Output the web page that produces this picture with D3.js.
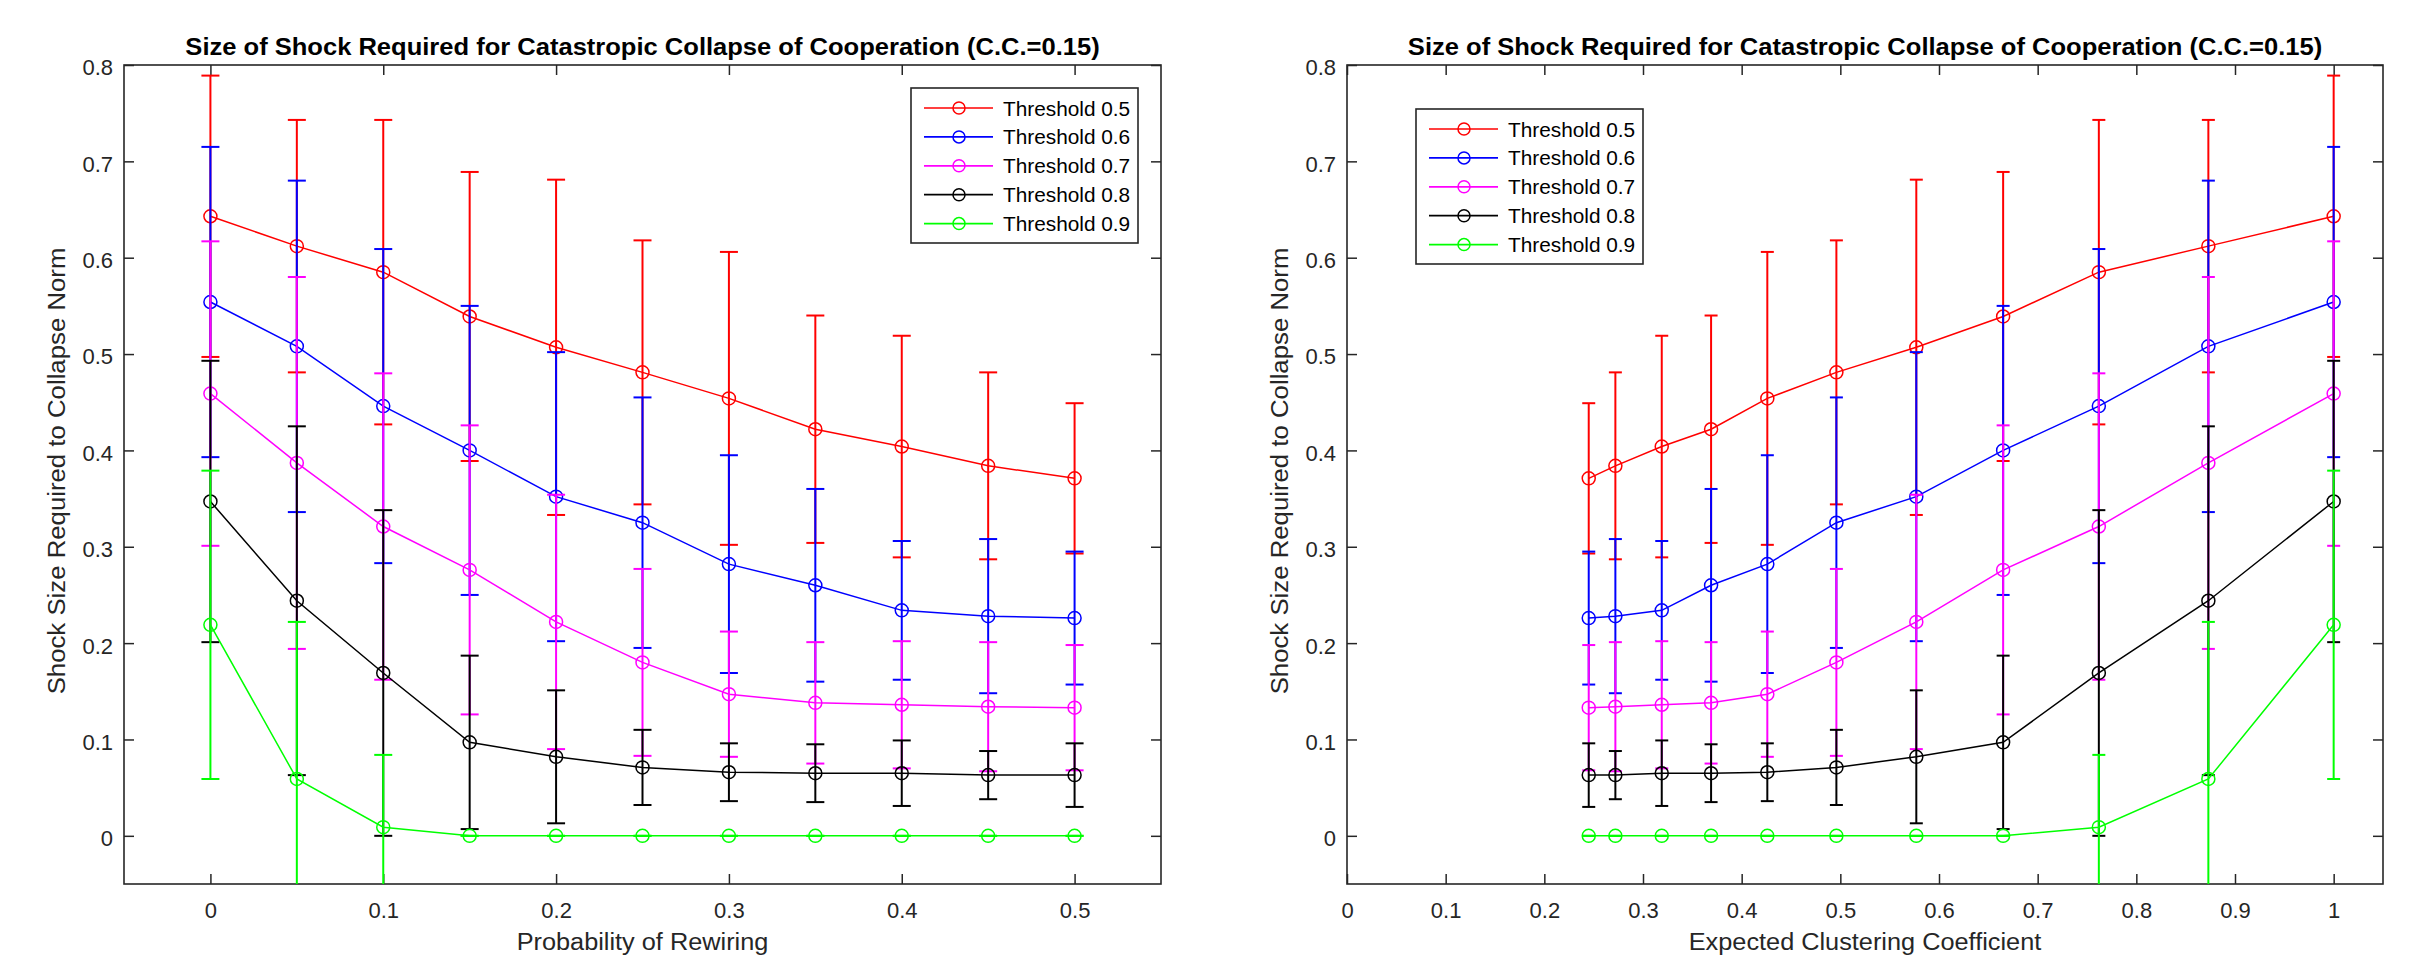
<!DOCTYPE html>
<html>
<head>
<meta charset="utf-8">
<script src="https://cdn.jsdelivr.net/npm/d3@7"></script>
<style>
  body { margin: 0; background: #fff; }
  svg { display: block; }
  text { font-family: "Liberation Sans", Arial, Helvetica, sans-serif; }
</style>
</head>
<body>
<div id="chart"></div>
<script>
// Data (same runs plotted two ways)
const rewiring   = [0, 0.05, 0.1, 0.15, 0.2, 0.25, 0.3, 0.35, 0.4, 0.45, 0.5];
const clustering = [1.0, 0.873, 0.762, 0.665, 0.577, 0.496, 0.426, 0.369, 0.319, 0.272, 0.245];

const seriesNames = ["Threshold 0.5", "Threshold 0.6", "Threshold 0.7", "Threshold 0.8", "Threshold 0.9"];

const mean05 = [0.643, 0.612, 0.585, 0.539, 0.507, 0.481, 0.454, 0.422, 0.404, 0.384, 0.371];
const err05  = [0.146, 0.131, 0.158, 0.150, 0.174, 0.137, 0.152, 0.118, 0.115, 0.097, 0.078];
const mean06 = [0.554, 0.508, 0.446, 0.400, 0.352, 0.325, 0.282, 0.260, 0.234, 0.228, 0.226];
const err06  = [0.161, 0.172, 0.163, 0.150, 0.150, 0.130, 0.113, 0.100, 0.072, 0.080, 0.069];
const mean07 = [0.459, 0.387, 0.321, 0.276, 0.222, 0.180, 0.147, 0.138, 0.136, 0.134, 0.133];
const err07  = [0.158, 0.193, 0.159, 0.150, 0.132, 0.097, 0.065, 0.063, 0.066, 0.067, 0.065];
const mean08 = [0.347, 0.244, 0.169, 0.097, 0.082, 0.071, 0.066, 0.065, 0.065, 0.063, 0.063];
const err08  = [0.146, 0.181, 0.169, 0.090, 0.069, 0.039, 0.030, 0.030, 0.034, 0.025, 0.033];
const mean09 = [0.219, 0.059, 0.009, 0, 0, 0, 0, 0, 0, 0, 0];
const err09  = [0.160, 0.163, 0.075, 0, 0, 0, 0, 0, 0, 0, 0];

const means = [mean05, mean06, mean07, mean08, mean09];
const errs  = [err05, err06, err07, err08, err09];

const yTicks = [0, 0.1, 0.2, 0.3, 0.4, 0.5, 0.6, 0.7, 0.8];
const yTickLabels = ["0", "0.1", "0.2", "0.3", "0.4", "0.5", "0.6", "0.7", "0.8"];
const xTicksLeft = [0, 0.1, 0.2, 0.3, 0.4, 0.5];
const xTickLabelsLeft = ["0", "0.1", "0.2", "0.3", "0.4", "0.5"];
const xTicksRight = [0, 0.1, 0.2, 0.3, 0.4, 0.5, 0.6, 0.7, 0.8, 0.9, 1];
const xTickLabelsRight = ["0", "0.1", "0.2", "0.3", "0.4", "0.5", "0.6", "0.7", "0.8", "0.9", "1"];

const titleText = "Size of Shock Required for Catastropic Collapse of Cooperation (C.C.=0.15)";
const yLabelText = "Shock Size Required to Collapse Norm";

// styling
const colors = ["#ff0000", "#0000ff", "#ff00ff", "#000000", "#00ff00"];
const axisColor = "#262626";
const W = 2411, H = 955;
const plotTop = 65, plotBottom = 884;

const panels = [
  { id: "left", x0: 124, x1: 1161, xDomain: [-0.05, 0.55], xs: rewiring,
    ticks: xTicksLeft, tickLabels: xTickLabelsLeft, xLabel: "Probability of Rewiring",
    legendX: 911, legendY: 88, cap: 9 },
  { id: "right", x0: 1347, x1: 2383, xDomain: [0, 1.05], xs: clustering,
    ticks: xTicksRight, tickLabels: xTickLabelsRight, xLabel: "Expected Clustering Coefficient",
    legendX: 1416, legendY: 109, cap: 6.5 }
];

const svg = d3.select("#chart").append("svg")
  .attr("width", W).attr("height", H);
svg.append("rect").attr("width", W).attr("height", H).attr("fill", "#fff");

// stretch text horizontally a bit (the MATLAB export is wider than Arial)
function stretch(sel, f) {
  sel.each(function() {
    const len = this.getComputedTextLength();
    d3.select(this).attr("textLength", len * f).attr("lengthAdjust", "spacingAndGlyphs");
  });
}

const y = d3.scaleLinear().domain([-0.05, 0.8]).range([plotBottom, plotTop]);

panels.forEach(p => {
  const x = d3.scaleLinear().domain(p.xDomain).range([p.x0, p.x1]);
  const g = svg.append("g");

  g.append("clipPath").attr("id", "clip-" + p.id)
    .append("rect")
    .attr("x", p.x0).attr("y", plotTop)
    .attr("width", p.x1 - p.x0).attr("height", plotBottom - plotTop);

  // axes (ticks point inward on all four sides)
  const fmtX = (d, i) => p.tickLabels[i];
  const fmtY = (d, i) => yTickLabels[i];

  const xb = g.append("g").attr("transform", `translate(0,${plotBottom})`)
    .call(d3.axisBottom(x).tickValues(p.ticks).tickFormat(fmtX).tickSizeInner(-10).tickSizeOuter(0).tickPadding(18.5));
  const xt = g.append("g").attr("transform", `translate(0,${plotTop})`)
    .call(d3.axisTop(x).tickValues(p.ticks).tickFormat("").tickSizeInner(-10).tickSizeOuter(0));
  const yl = g.append("g").attr("transform", `translate(${p.x0},0)`)
    .call(d3.axisLeft(y).tickValues(yTicks).tickFormat(fmtY).tickSizeInner(-10).tickSizeOuter(0).tickPadding(11));
  const yr = g.append("g").attr("transform", `translate(${p.x1},0)`)
    .call(d3.axisRight(y).tickValues(yTicks).tickFormat("").tickSizeInner(-10).tickSizeOuter(0));

  [xb, xt, yl, yr].forEach(a => {
    a.select(".domain").remove();
    a.selectAll(".tick line").attr("stroke", axisColor).attr("stroke-width", 1.5);
    a.selectAll("text").attr("fill", axisColor).style("font-size", "22px")
      .style("font-family", "'Liberation Sans', Arial, sans-serif");
  });
  yl.selectAll("text").attr("dy", "0.45em");

  // axes box
  g.append("rect")
    .attr("x", p.x0).attr("y", plotTop)
    .attr("width", p.x1 - p.x0).attr("height", plotBottom - plotTop)
    .attr("fill", "none").attr("stroke", axisColor).attr("stroke-width", 1.6);

  // series: error bars, line, circle markers
  const plot = g.append("g").attr("clip-path", `url(#clip-${p.id})`);
  means.forEach((m, s) => {
    const pts = p.xs.map((xv, i) => ({ x: xv, m: m[i], e: errs[s][i] }));
    const sg = plot.append("g").attr("stroke", colors[s]).attr("fill", "none");

    const eb = sg.append("g").attr("stroke-width", 2);
    eb.selectAll("line.v").data(pts).join("line").attr("class", "v")
      .attr("x1", d => x(d.x)).attr("x2", d => x(d.x))
      .attr("y1", d => y(d.m - d.e)).attr("y2", d => y(d.m + d.e));
    eb.selectAll("line.t").data(pts).join("line").attr("class", "t")
      .attr("x1", d => x(d.x) - p.cap).attr("x2", d => x(d.x) + p.cap)
      .attr("y1", d => y(d.m + d.e)).attr("y2", d => y(d.m + d.e));
    eb.selectAll("line.b").data(pts).join("line").attr("class", "b")
      .attr("x1", d => x(d.x) - p.cap).attr("x2", d => x(d.x) + p.cap)
      .attr("y1", d => y(d.m - d.e)).attr("y2", d => y(d.m - d.e));

    sg.append("path")
      .attr("stroke-width", 1.5)
      .attr("d", d3.line().x(d => x(d.x)).y(d => y(d.m))(pts));

    sg.selectAll("circle").data(pts).join("circle")
      .attr("cx", d => x(d.x)).attr("cy", d => y(d.m))
      .attr("r", 6.5).attr("stroke-width", 1.5);
  });

  // title
  g.append("text")
    .attr("x", (p.x0 + p.x1) / 2).attr("y", 55)
    .attr("text-anchor", "middle")
    .style("font-size", "23px").style("font-weight", "bold")
    .attr("fill", "#000")
    .text(titleText)
    .call(stretch, 1.11);

  // x label
  g.append("text")
    .attr("x", (p.x0 + p.x1) / 2).attr("y", 950)
    .attr("text-anchor", "middle")
    .style("font-size", "23px").attr("fill", axisColor)
    .text(p.xLabel)
    .call(stretch, 1.1);

  // y label
  g.append("text")
    .attr("transform", `translate(${p.x0 - 59},471) rotate(-90)`)
    .attr("text-anchor", "middle")
    .style("font-size", "23px").attr("fill", axisColor)
    .text(yLabelText)
    .call(stretch, 1.12);

  // legend
  const lg = g.append("g").attr("transform", `translate(${p.legendX},${p.legendY})`);
  lg.append("rect")
    .attr("width", 227).attr("height", 155)
    .attr("fill", "#fff").attr("stroke", axisColor).attr("stroke-width", 1.6);
  const item = lg.selectAll("g.item").data(seriesNames).join("g")
    .attr("class", "item")
    .attr("transform", (d, i) => `translate(0,${20 + i * 28.9})`);
  item.append("line")
    .attr("x1", 13).attr("x2", 82).attr("y1", 0).attr("y2", 0)
    .attr("stroke", (d, i) => colors[i]).attr("stroke-width", 1.7);
  item.append("circle")
    .attr("cx", 48).attr("cy", 0).attr("r", 6)
    .attr("fill", "none").attr("stroke", (d, i) => colors[i]).attr("stroke-width", 1.5);
  item.append("text")
    .attr("x", 92).attr("y", 7.5)
    .style("font-size", "20px").attr("fill", "#000")
    .text(d => d)
    .call(stretch, 1.04);
});
</script>
</body>
</html>
